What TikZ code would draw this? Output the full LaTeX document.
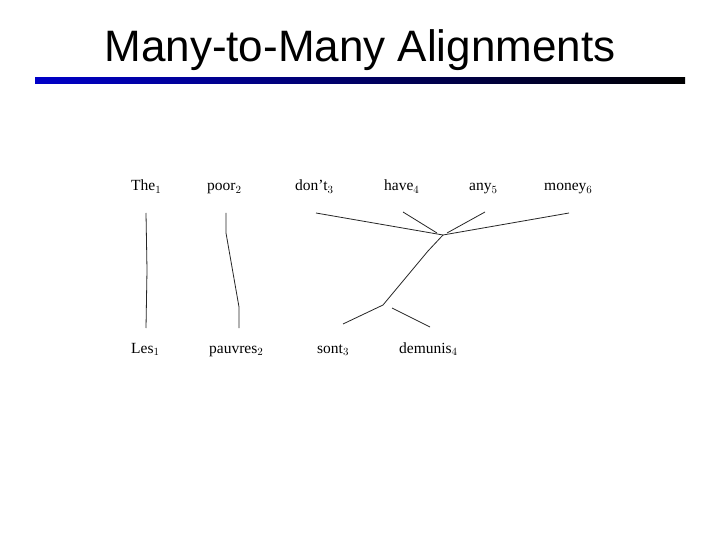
\documentclass[tikz,border=0pt]{standalone}
\usepackage{fontspec}
\setmainfont{Liberation Serif}
\newfontfamily\titlefont{Liberation Sans}
\begin{document}
\begin{tikzpicture}[x=1pt,y=-1pt,
  word/.style={anchor=base west,inner sep=0pt,font=\fontsize{15.5}{17}\selectfont},
  link/.style={line width=0.8pt,black!85}]
\useasboundingbox (0,0) rectangle (720,540);
\fill[white] (0,0) rectangle (720,540);
% title
\node[anchor=base,inner sep=0pt,font=\titlefont\fontsize{44}{50}\selectfont] (title) at (360,62) {Many-to-Many Alignments};
\shade[left color={rgb,255:red,0;green,0;blue,200}, right color=black] (35,78) rectangle (685,84);
% English words
\node[word] (the) at (131,191) {The$_1$};
\node[word] (poor) at (207,191) {poor$_2$};
\node[word] (dont) at (295,191) {don’t$_3$};
\node[word] (have) at (384,191) {have$_4$};
\node[word] (any) at (469,191) {any$_5$};
\node[word] (money) at (544,191) {money$_6$};
% French words
\node[word] (les) at (131,353) {Les$_1$};
\node[word] (pauvres) at (209,353) {pauvres$_2$};
\node[word] (sont) at (317,353) {sont$_3$};
\node[word] (demunis) at (399,353) {demunis$_4$};
% alignment links
\coordinate (hub) at (443,235);
\coordinate (fork) at (383,305);
\draw[link] (146,213) -- (147,270) -- (146,328);
\draw[link] (226,213) -- (226,233) -- (239,307) -- (239,328);
\draw[link] (316,213) -- (hub);
\draw[link] (403,212) -- (437,233);
\draw[link] (485,212) -- (447,233);
\draw[link] (569,213) -- (hub);
\draw[link] (hub) -- (428,251) -- (fork) -- (343,324);
\draw[link] (392,308) -- (430,327);
\end{tikzpicture}
\end{document}
